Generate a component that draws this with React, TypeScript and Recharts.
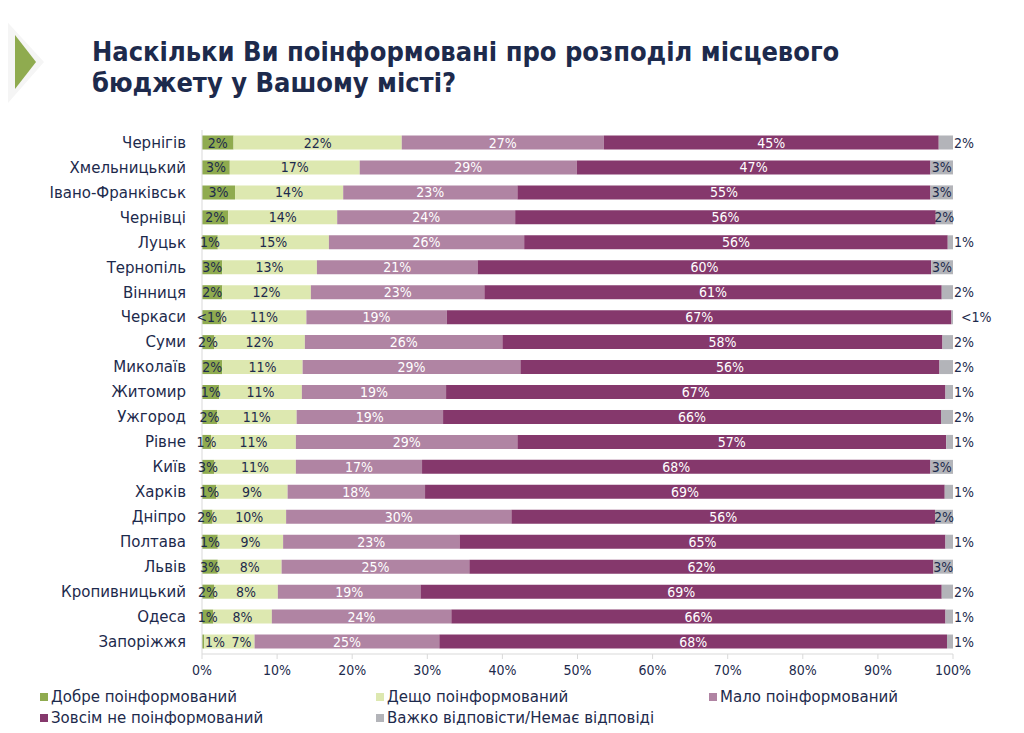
import React from "react";
import { BarChart, Bar, XAxis, YAxis, LabelList } from "recharts";

const cities = [
  "Чернігів", "Хмельницький", "Івано-Франківськ", "Чернівці", "Луцьк", "Тернопіль", "Вінниця",
  "Черкаси", "Суми", "Миколаїв", "Житомир", "Ужгород", "Рівне", "Київ", "Харків", "Дніпро",
  "Полтава", "Львів", "Кропивницький", "Одеса", "Запоріжжя",
];

// bar widths (each row adds up to 100)
const good = [4.2, 3.7, 4.4, 3.5, 2.1, 2.7, 2.7, 2.6, 1.6, 2.7, 2.3, 2.0, 1.2, 1.6, 1.9, 1.4, 2.1, 2.1, 1.6, 1.5, 0.3];
const some = [22.4, 17.3, 14.4, 14.5, 14.8, 12.6, 11.8, 11.3, 12.1, 10.7, 11.0, 10.6, 11.3, 10.9, 9.5, 9.8, 8.7, 8.5, 8.5, 7.8, 6.7];
const little = [26.9, 28.9, 23.2, 23.7, 26.0, 21.4, 23.1, 18.7, 26.3, 29.0, 19.2, 19.5, 29.5, 16.8, 18.3, 30.0, 23.5, 25.0, 19.0, 23.9, 24.6];
const none = [44.6, 47.1, 55.0, 56.0, 56.4, 60.4, 60.9, 67.2, 58.6, 55.8, 66.5, 66.3, 57.1, 67.7, 69.2, 56.4, 64.7, 61.8, 69.4, 65.8, 67.6];
const hard = [1.9, 3.0, 3.0, 2.3, 0.7, 2.9, 1.5, 0.2, 1.4, 1.8, 1.0, 1.6, 0.9, 3.0, 1.1, 2.4, 1.0, 2.6, 1.5, 1.0, 0.8];

// labels as printed on the bars
const goodLabels = ["2%", "3%", "3%", "2%", "1%", "3%", "2%", "<1%", "2%", "2%", "1%", "2%", "1%", "3%", "1%", "2%", "1%", "3%", "2%", "1%", "1%"];
const someLabels = ["22%", "17%", "14%", "14%", "15%", "13%", "12%", "11%", "12%", "11%", "11%", "11%", "11%", "11%", "9%", "10%", "9%", "8%", "8%", "8%", "7%"];
const littleLabels = ["27%", "29%", "23%", "24%", "26%", "21%", "23%", "19%", "26%", "29%", "19%", "19%", "29%", "17%", "18%", "30%", "23%", "25%", "19%", "24%", "25%"];
const noneLabels = ["45%", "47%", "55%", "56%", "56%", "60%", "61%", "67%", "58%", "56%", "67%", "66%", "57%", "68%", "69%", "56%", "65%", "62%", "69%", "66%", "68%"];
const hardLabels = ["2%", "3%", "3%", "2%", "1%", "3%", "2%", "<1%", "2%", "2%", "1%", "2%", "1%", "3%", "1%", "2%", "1%", "3%", "2%", "1%", "1%"];

const xTicks = [0, 10, 20, 30, 40, 50, 60, 70, 80, 90, 100];

const navy = "#1d2a4c";
const narrow = "'Liberation Sans Narrow', 'DejaVu Sans Condensed', sans-serif";
const sans = "'DejaVu Sans', sans-serif";

const series = [
  { key: "good", name: "Добре поінформований", color: "#8fab4f", text: navy, values: good, labels: goodLabels },
  { key: "some", name: "Дещо поінформований", color: "#dde8b0", text: navy, values: some, labels: someLabels },
  { key: "little", name: "Мало поінформований", color: "#b084a3", text: "#ffffff", values: little, labels: littleLabels },
  { key: "none", name: "Зовсім не поінформований", color: "#85386c", text: "#ffffff", values: none, labels: noneLabels },
  { key: "hard", name: "Важко відповісти/Немає відповіді", color: "#b3b4b9", text: navy, values: hard, labels: hardLabels },
];

const data = cities.map((city, i) => {
  const row: Record<string, string | number> = { city };
  series.forEach((s) => {
    row[s.key] = s.values[i];
    row[s.key + "L"] = s.labels[i];
  });
  return row;
});

const makeLabel = (key: string, color: string) => (props: any) => {
  const x = Number(props.x);
  const y = Number(props.y);
  const w = Number(props.width);
  const h = Number(props.height);
  const value = String(props.value);
  let tx = x + w / 2;
  let anchor: "middle" | "start" = "middle";
  if (key === "hard" && w < 15) {
    tx = x + w + (value.startsWith("<") ? 8 : 1);
    anchor = "start";
  }
  if (key === "good" && w < 7) {
    tx = x + 3;
    anchor = "start";
  }
  if (key === "some" && x < 207) tx += 12;
  return (
    <text x={tx} y={y + h / 2} dy="0.36em" textAnchor={anchor} fill={color} fontSize={14} fontFamily={narrow}>
      {value}
    </text>
  );
};

const legendPos = [
  { left: 40, top: 688 },
  { left: 376, top: 688 },
  { left: 709, top: 688 },
  { left: 40, top: 709 },
  { left: 376, top: 709 },
];

export default function App() {
  return (
    <div style={{ position: "relative", width: 1024, height: 733, margin: -8, background: "#fff", overflow: "hidden" }}>
      <svg width={60} height={130} style={{ position: "absolute", left: 0, top: 0 }}>
        <polygon points="0,14 44,62 0,112" fill="#f5f5f5" />
        <polygon points="15,35 36,62 15,89" fill="#8fab4f" />
      </svg>
      <div
        style={{
          position: "absolute",
          left: 92,
          top: 36,
          fontFamily: narrow,
          fontWeight: 700,
          fontSize: 27,
          lineHeight: "31px",
          color: navy,
        }}
      >
        Наскільки Ви поінформовані про розподіл місцевого
        <br />
        бюджету у Вашому місті?
      </div>
      <div style={{ position: "absolute", left: 0, top: 0 }}>
        <BarChart
          width={1024}
          height={733}
          data={data}
          layout="vertical"
          barCategoryGap="22%"
          margin={{ top: 130, right: 71, bottom: 49, left: 0 }}
        >
          <XAxis
            type="number"
            domain={[0, 100]}
            ticks={xTicks}
            tickFormatter={(v: number) => v + "%"}
            axisLine={{ stroke: "#d9d9d9" }}
            tickLine={{ stroke: "#d9d9d9" }}
            tickSize={5}
            tickMargin={6}
            height={30}
            tick={{ fill: navy, fontSize: 14, fontFamily: narrow }}
          />
          <YAxis
            type="category"
            dataKey="city"
            width={202}
            axisLine={{ stroke: "#d9d9d9" }}
            tickLine={false}
            tickMargin={10}
            interval={0}
            tick={{ fill: navy, fontSize: 15, fontFamily: sans }}
          />
          {series.map((s) => (
            <Bar key={s.key} dataKey={s.key} name={s.name} stackId="a" fill={s.color} isAnimationActive={false}>
              <LabelList dataKey={s.key + "L"} content={makeLabel(s.key, s.text)} />
            </Bar>
          ))}
        </BarChart>
      </div>
      {series.map((s, i) => (
        <div
          key={s.key}
          style={{
            position: "absolute",
            left: legendPos[i].left,
            top: legendPos[i].top,
            display: "flex",
            alignItems: "center",
            fontFamily: sans,
            fontSize: 15,
            color: navy,
            whiteSpace: "nowrap",
          }}
        >
          <span style={{ width: 8, height: 8, background: s.color, display: "inline-block", marginRight: 3 }} />
          {s.name}
        </div>
      ))}
    </div>
  );
}
